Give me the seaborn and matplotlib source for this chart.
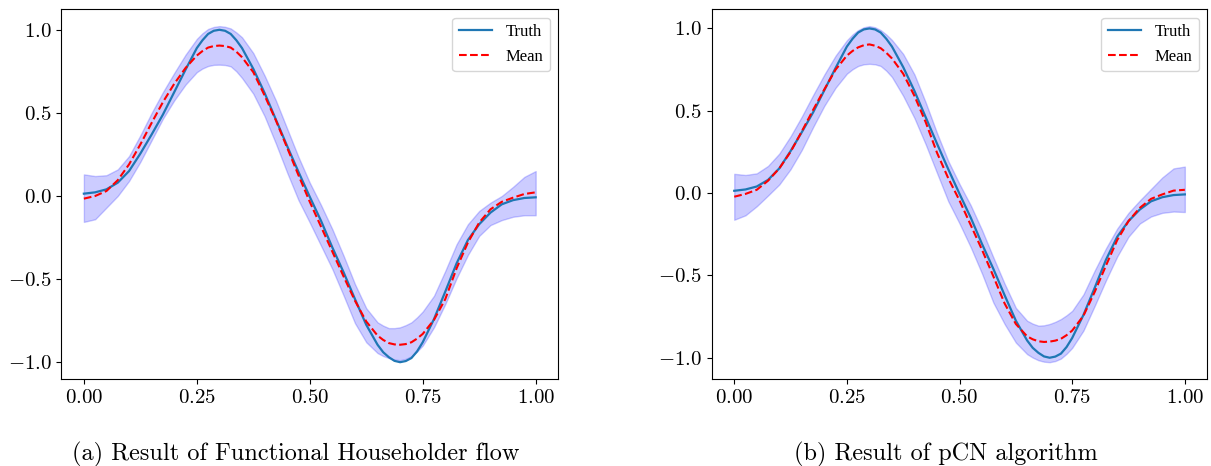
import numpy as np
import matplotlib
matplotlib.use("Agg")
import matplotlib.pyplot as plt
import seaborn as sns

# ---- data ----
x = [0.000, 0.025, 0.050, 0.075, 0.100, 0.125, 0.150, 0.175, 0.200, 0.225, 0.250,
     0.2625, 0.275, 0.2875, 0.300, 0.3125, 0.325, 0.3375, 0.350,
     0.375, 0.400, 0.425, 0.450, 0.475, 0.500, 0.525, 0.550, 0.575, 0.600, 0.625, 0.650,
     0.6625, 0.675, 0.6875, 0.700, 0.7125, 0.725, 0.7375, 0.750,
     0.775, 0.800, 0.825, 0.850, 0.875, 0.900, 0.925, 0.950, 0.975, 1.000]

truth = [0.014, 0.022, 0.040, 0.080, 0.150, 0.255, 0.370, 0.490, 0.625, 0.760, 0.890,
         0.937, 0.975, 0.994, 1.000, 0.994, 0.975, 0.937, 0.890,
         0.765, 0.620, 0.460, 0.300, 0.145, -0.005, -0.150, -0.310, -0.460, -0.620, -0.775, -0.895,
         -0.940, -0.970, -0.992, -1.000, -0.993, -0.975, -0.935, -0.880,
         -0.740, -0.575, -0.405, -0.265, -0.170, -0.100, -0.050, -0.025, -0.012, -0.008]

# (a) Functional Householder flow
mean_fhf = [-0.016, 0.000, 0.030, 0.095, 0.190, 0.310, 0.440, 0.565, 0.675, 0.770, 0.845,
            0.872, 0.893, 0.902, 0.905, 0.902, 0.893, 0.868, 0.835,
            0.745, 0.605, 0.455, 0.290, 0.125, -0.035, -0.185, -0.335, -0.485, -0.630, -0.755, -0.840,
            -0.866, -0.885, -0.893, -0.895, -0.891, -0.880, -0.858, -0.830,
            -0.745, -0.620, -0.435, -0.280, -0.160, -0.080, -0.035, -0.010, 0.012, 0.022]
upper_fhf = [0.130, 0.120, 0.125, 0.160, 0.240, 0.365, 0.500, 0.625, 0.740, 0.850, 0.945,
             0.979, 1.005, 1.017, 1.022, 1.018, 1.008, 0.984, 0.955,
             0.860, 0.725, 0.575, 0.405, 0.235, 0.080, -0.055, -0.200, -0.360, -0.530, -0.675, -0.760,
             -0.780, -0.795, -0.795, -0.790, -0.777, -0.760, -0.730, -0.695,
             -0.600, -0.450, -0.290, -0.170, -0.090, -0.040, 0.000, 0.055, 0.115, 0.150]
lower_fhf = [-0.156, -0.140, -0.070, 0.000, 0.090, 0.205, 0.335, 0.465, 0.575, 0.670, 0.745,
             0.767, 0.782, 0.789, 0.790, 0.788, 0.780, 0.750, 0.710,
             0.615, 0.480, 0.315, 0.140, -0.025, -0.160, -0.300, -0.440, -0.600, -0.765, -0.880, -0.945,
             -0.963, -0.975, -0.984, -0.988, -0.980, -0.965, -0.936, -0.900,
             -0.790, -0.650, -0.495, -0.355, -0.240, -0.175, -0.145, -0.125, -0.116, -0.116]

# (b) pCN algorithm
mean_pcn = [-0.022, -0.005, 0.020, 0.075, 0.150, 0.250, 0.375, 0.505, 0.630, 0.750, 0.835,
            0.863, 0.885, 0.898, 0.903, 0.895, 0.880, 0.852, 0.818,
            0.725, 0.590, 0.430, 0.245, 0.090, -0.045, -0.195, -0.345, -0.505, -0.670, -0.795, -0.870,
            -0.888, -0.900, -0.904, -0.902, -0.896, -0.885, -0.863, -0.835,
            -0.745, -0.600, -0.440, -0.285, -0.170, -0.090, -0.035, -0.008, 0.015, 0.020]
upper_pcn = [0.117, 0.110, 0.120, 0.165, 0.240, 0.345, 0.465, 0.595, 0.720, 0.835, 0.928,
             0.963, 0.990, 1.007, 1.014, 1.007, 0.990, 0.963, 0.930,
             0.845, 0.720, 0.550, 0.365, 0.195, 0.055, -0.075, -0.225, -0.390, -0.550, -0.697, -0.775,
             -0.793, -0.805, -0.803, -0.795, -0.782, -0.765, -0.742, -0.715,
             -0.615, -0.470, -0.335, -0.215, -0.120, -0.045, 0.025, 0.095, 0.150, 0.161]
lower_pcn = [-0.162, -0.135, -0.080, -0.015, 0.052, 0.145, 0.262, 0.400, 0.530, 0.640, 0.725,
             0.752, 0.772, 0.782, 0.785, 0.782, 0.772, 0.743, 0.705,
             0.590, 0.455, 0.295, 0.122, -0.050, -0.185, -0.330, -0.490, -0.665, -0.795, -0.908, -0.978,
             -0.999, -1.015, -1.024, -1.027, -1.020, -1.005, -0.976, -0.940,
             -0.835, -0.685, -0.530, -0.385, -0.265, -0.185, -0.142, -0.120, -0.112, -0.115]

xticks = [0.00, 0.25, 0.50, 0.75, 1.00]
yticks = [-1.0, -0.5, 0.0, 0.5, 1.0]
captions = ["(a) Result of Functional Householder flow", "(b) Result of pCN algorithm"]

# ---- style ----
plt.rcParams["font.family"] = ["cmr10"]
plt.rcParams["mathtext.fontset"] = "cm"
plt.rcParams["axes.formatter.use_mathtext"] = True
plt.rcParams["axes.unicode_minus"] = True

fig = plt.figure(figsize=(12.11, 4.66), dpi=100)
ax1 = fig.add_axes([0.0506, 0.1867, 0.4104, 0.7933])
ax2 = fig.add_axes([0.5877, 0.1867, 0.4093, 0.7933])

panels = [(ax1, mean_fhf, lower_fhf, upper_fhf), (ax2, mean_pcn, lower_pcn, upper_pcn)]
for ax, mean, lower, upper in panels:
    ax.fill_between(x, lower, upper, color="blue", alpha=0.2, zorder=1)
    sns.lineplot(x=x, y=truth, ax=ax, color="#1f77b4", linewidth=1.6,
                 label="Truth", zorder=3)
    sns.lineplot(x=x, y=mean, ax=ax, color="red", linewidth=1.5,
                 linestyle="--", label="Mean", zorder=4)
    ax.set_xticks(xticks)
    ax.set_yticks(yticks)
    ax.xaxis.set_major_formatter(matplotlib.ticker.FormatStrFormatter(r"$\mathdefault{%.2f}$"))
    ax.yaxis.set_major_formatter(matplotlib.ticker.FuncFormatter(
        lambda v, p: r"$\mathdefault{%s}$" % (("%.1f" % v).replace("-", "\u2212") if abs(v) > 1e-9 else "0.0")))
    ax.tick_params(labelsize=15)
    ax.set_xlabel("")
    ax.set_ylabel("")
    for s in ax.spines.values():
        s.set_visible(True)
        s.set_color("black")
    ax.legend(loc="upper right", prop={"family": "Liberation Serif", "size": 12})

fig.text(0.2444, 0.0129, captions[0], ha="center", va="baseline", fontsize=17.5)
fig.text(0.7808, 0.0129, captions[1], ha="center", va="baseline", fontsize=17.5)

fig.savefig("out.png", dpi=100)
